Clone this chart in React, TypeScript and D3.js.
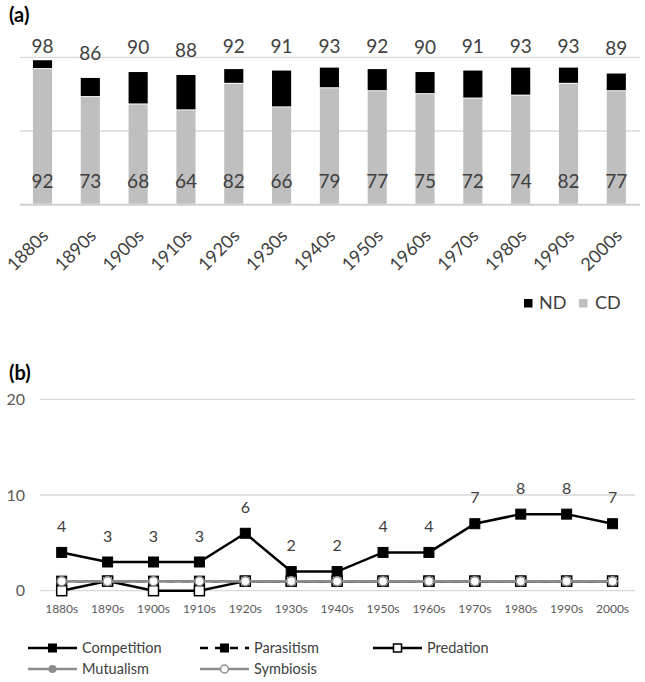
import React from "react";
import * as d3 from "d3";

const decades = ["1880s","1890s","1900s","1910s","1920s","1930s","1940s","1950s","1960s","1970s","1980s","1990s","2000s"];
const totalVals = [98,86,90,88,92,91,93,92,90,91,93,93,89];
const cdVals = [92,73,68,64,82,66,79,77,75,72,74,82,77];
const aTicks = [0,50,100];

const competition = [4,3,3,3,6,2,2,4,4,7,8,8,7];
const parasitism = [1,1,1,1,1,1,1,1,1,1,1,1,1];
const predation = [0,1,0,0,1,1,1,1,1,1,1,1,1];
const mutualism = [1,1,1,1,1,1,1,1,1,1,1,1,1];
const symbiosis = [1,1,1,1,1,1,1,1,1,1,1,1,1];
const bTicks = [0,10,20];

const FONT = "Lato, 'Open Sans', sans-serif";
const TXT = "#404040";
const GRID = "#d9d9d9";

export default function App() {
  // Chart (a)
  const xa = d3.scaleBand<string>().domain(decades).range([18.6, 640.2]);
  const ya = d3.scaleLinear().domain([0, 100]).range([204.7, 57.3]);
  const bw = xa.bandwidth() * 0.4;
  const topClamp = 46.7;

  // Chart (b)
  const xb = d3.scaleBand<string>().domain(decades).range([38.75, 635.5]);
  const yb = d3.scaleLinear().domain([0, 20]).range([590.7, 399.3]);
  const cx = (d: string) => (xb(d) as number) + xb.bandwidth() / 2;
  const line = (vals: number[]) =>
    d3.line<number>().x((_, i) => cx(decades[i])).y((v) => yb(v))(vals) as string;

  const sq = (x: number, y: number, s: number, fill: string, stroke: string, sw: number, key: string) => (
    <rect key={key} x={x - s / 2} y={y - s / 2} width={s} height={s} fill={fill} stroke={stroke} strokeWidth={sw} />
  );

  const legendB = [
    { name: "Competition", x: 28, y: 648, color: "#000", dash: "", marker: "sqBlack" },
    { name: "Parasitism", x: 200, y: 648, color: "#000", dash: "8,7", marker: "sqBlack" },
    { name: "Predation", x: 373, y: 648, color: "#000", dash: "", marker: "sqWhite" },
    { name: "Mutualism", x: 28, y: 669, color: "#8c8c8c", dash: "", marker: "circGray" },
    { name: "Symbiosis", x: 200, y: 669, color: "#8c8c8c", dash: "", marker: "circWhite" },
  ];

  return (
    <div style={{ position: "absolute", left: 0, top: 0 }}>
      <svg width={645} height={682} style={{ display: "block", background: "#fff" }} fontFamily={FONT}>
        {/* (a) */}
        <text x={9} y={22} fontSize={20} fontWeight="bold" fill="#000">(a)</text>
        {aTicks.map((t) => (
          <line key={"ga" + t} x1={20} x2={640} y1={ya(t)} y2={ya(t)} stroke={t === 0 ? "#d0d0d0" : GRID} strokeWidth={t === 0 ? 2 : 1.3} />
        ))}
        {decades.map((d, i) => {
          const c = (xa(d) as number) + xa.bandwidth() / 2;
          return (
            <g key={"bar" + d}>
              <rect x={c - bw / 2} y={ya(cdVals[i])} width={bw} height={ya(0) - ya(cdVals[i]) - 1} fill="#bfbfbf" />
              <rect x={c - bw / 2} y={ya(totalVals[i])} width={bw} height={ya(cdVals[i]) - ya(totalVals[i]) - 1} fill="#000" />
              <text x={c} y={Math.max(ya(totalVals[i]) - 25, topClamp)} dy="0.35em" textAnchor="middle" fontSize={19} fill={TXT}>{totalVals[i]}</text>
              <text x={c} y={ya(0) - 23} dy="0.35em" textAnchor="middle" fontSize={19} fill={TXT}>{cdVals[i]}</text>
              <text transform={`translate(${c + 7},${237}) rotate(-45)`} textAnchor="end" fontSize={18} fill={TXT}>{d}</text>
            </g>
          );
        })}
        <rect x={524} y={299} width={8.5} height={8.5} fill="#000" />
        <text x={539} y={303} dy="0.35em" fontSize={18} fill={TXT}>ND</text>
        <rect x={579} y={299} width={8.5} height={8.5} fill="#bfbfbf" />
        <text x={595} y={303} dy="0.35em" fontSize={18} fill={TXT}>CD</text>

        {/* (b) */}
        <text x={9} y={380} fontSize={20} fontWeight="bold" fill="#000">(b)</text>
        {bTicks.map((t) => (
          <g key={"gb" + t}>
            <line x1={40} x2={635} y1={yb(t)} y2={yb(t)} stroke={GRID} strokeWidth={1.3} />
            <text x={25} y={yb(t)} dy="0.35em" textAnchor="end" fontSize={16} fill="#595959">{t}</text>
          </g>
        ))}
        {decades.map((d) => (
          <text key={"xb" + d} x={cx(d)} y={608.5} dy="0.35em" textAnchor="middle" fontSize={12} fill="#595959">{d}</text>
        ))}
        {/* Competition */}
        <path d={line(competition)} fill="none" stroke="#000" strokeWidth={2.5} />
        {competition.map((v, i) => sq(cx(decades[i]), yb(v), 10, "#000", "#000", 1, "cm" + i))}
        {competition.map((v, i) => (
          <text key={"cl" + i} x={cx(decades[i])} y={yb(v) - 26} dy="0.35em" textAnchor="middle" fontSize={16} fill={TXT}>{v}</text>
        ))}
        {/* Parasitism */}
        <path d={line(parasitism)} fill="none" stroke="#000" strokeWidth={2.5} strokeDasharray="8,7" />
        {parasitism.map((v, i) => sq(cx(decades[i]), yb(v), 10, "#000", "#000", 1, "pm" + i))}
        {/* Predation */}
        <path d={line(predation)} fill="none" stroke="#000" strokeWidth={2.5} />
        {predation.map((v, i) => sq(cx(decades[i]), yb(v), 10, "#fff", "#000", 1.5, "prm" + i))}
        {/* Mutualism */}
        <path d={line(mutualism)} fill="none" stroke="#8c8c8c" strokeWidth={2.5} />
        {mutualism.map((v, i) => (
          <circle key={"mm" + i} cx={cx(decades[i])} cy={yb(v)} r={4.5} fill="#8c8c8c" stroke="#8c8c8c" />
        ))}
        {/* Symbiosis */}
        <path d={line(symbiosis)} fill="none" stroke="#8c8c8c" strokeWidth={2.5} />
        {symbiosis.map((v, i) => (
          <circle key={"sm" + i} cx={cx(decades[i])} cy={yb(v)} r={4.5} fill="#fff" stroke="#8c8c8c" strokeWidth={1.5} />
        ))}

        {/* Legend (b) */}
        {legendB.map((l) => (
          <g key={"lg" + l.name}>
            <line x1={l.x} x2={l.x + 49} y1={l.y} y2={l.y} stroke={l.color} strokeWidth={2.5} strokeDasharray={l.dash || undefined} />
            {l.marker === "sqBlack" && sq(l.x + 24.5, l.y, 8, "#000", "#000", 1, "m")}
            {l.marker === "sqWhite" && sq(l.x + 24.5, l.y, 8, "#fff", "#000", 1.5, "m")}
            {l.marker === "circGray" && <circle cx={l.x + 24.5} cy={l.y} r={4} fill="#8c8c8c" />}
            {l.marker === "circWhite" && <circle cx={l.x + 24.5} cy={l.y} r={4} fill="#fff" stroke="#8c8c8c" strokeWidth={1.5} />}
            <text x={l.x + 54} y={l.y} dy="0.35em" fontSize={14.5} fill={TXT}>{l.name}</text>
          </g>
        ))}
      </svg>
    </div>
  );
}
